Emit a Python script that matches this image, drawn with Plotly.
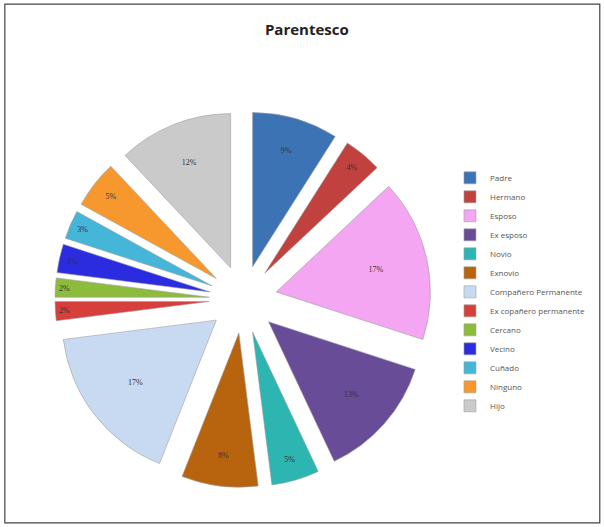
import plotly.graph_objects as go

categories = ["Padre", "Hermano", "Esposo", "Ex esposo", "Novio", "Exnovio",
              "Compañero Permanente", "Ex copañero permanente", "Cercano",
              "Vecino", "Cuñado", "Ninguno", "Hijo"]
values = [9, 4, 17, 13, 5, 8, 17, 2, 2, 3, 3, 5, 12]
colors = ["#3C73B4", "#C0413D", "#F4A6F2", "#684C98", "#2DB5B2", "#B8640F",
          "#C8DAF2", "#D63F3B", "#8DBB3C", "#2B2BE0", "#45B6D8", "#F7982E",
          "#CACACA"]

fig = go.Figure(go.Pie(
    labels=categories,
    values=values,
    sort=False,
    direction="clockwise",
    rotation=0,
    pull=0.22,
    marker=dict(colors=colors, line=dict(color="#A0A0A0", width=0.6)),
    textinfo="percent",
    texttemplate="%{percent:.0%}",
    textposition="inside",
    insidetextorientation="horizontal",
    textfont=dict(size=8, color="#333333", family="Liberation Serif"),
    domain=dict(x=[0.091, 0.714], y=[0.075, 0.789]),
    hoverinfo="label+percent",
))

fig.update_layout(
    width=604, height=527,
    margin=dict(l=0, r=0, t=0, b=0),
    paper_bgcolor="white",
    plot_bgcolor="white",
    title=dict(text="<b>Parentesco</b>", x=0.508, xanchor="center",
               y=0.943, yanchor="middle",
               font=dict(size=15, color="#222222", family="Open Sans")),
    showlegend=True,
    legend=dict(x=0.745, y=0.69, xanchor="left", yanchor="top",
                font=dict(size=8, color="#555555", family="Open Sans"),
                itemwidth=30, tracegroupgap=0, bgcolor="rgba(0,0,0,0)"),
    shapes=[dict(type="rect", xref="paper", yref="paper",
                 x0=0.008, x1=0.993, y0=0.008, y1=0.992,
                 line=dict(color="#444444", width=1.2))],
)

fig.write_html("out.html", config={"displayModeBar": False},
               post_script="document.body.style.margin='0';document.body.style.overflow='hidden';")
